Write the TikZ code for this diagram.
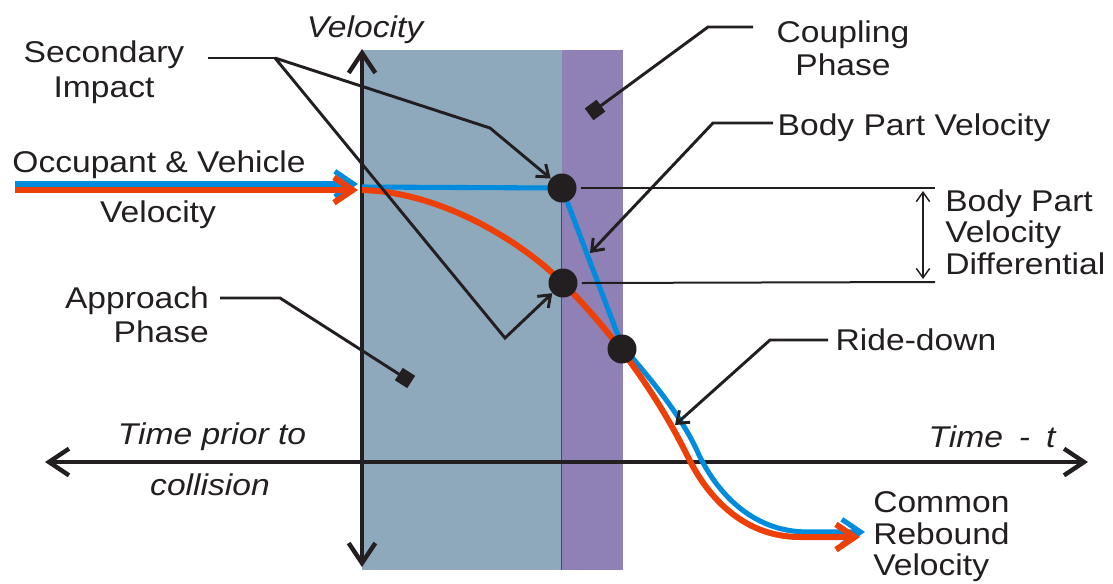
\documentclass[tikz,border=0pt]{standalone}
\usepackage{fontspec}
\setmainfont{Liberation Sans}[FakeStretch=1.12]
\usetikzlibrary{arrows.meta}
\definecolor{ink}{RGB}{35,31,32}
\definecolor{apbg}{RGB}{143,169,188}
\definecolor{cpbg}{RGB}{143,128,181}
\definecolor{vblue}{RGB}{0,140,222}
\definecolor{vred}{RGB}{236,64,8}
\begin{document}
\begin{tikzpicture}[x=0.75pt,y=-0.75pt,
  lbl/.style={font=\fontsize{22.5pt}{26pt}\selectfont, text=ink, inner sep=0pt},
  lbli/.style={lbl, font=\fontsize{22.5pt}{26pt}\selectfont\itshape},
  axis/.style={draw=ink, line width=3.3pt, {Straight Barb[length=15pt,width=20pt]}-{Straight Barb[length=15pt,width=20pt]}},
  leader/.style={draw=ink, line width=2.2pt},
  leadarrow/.style={leader, -{Straight Barb[length=8pt,width=12pt]}},
  marker/.style={fill=ink, minimum size=11pt, inner sep=0pt, shape=rectangle},
  dot/.style={circle, fill=ink, minimum size=21.75pt, inner sep=0pt},
  velred/.style={draw=vred, line width=4.5pt},
  velblue/.style={draw=vblue, line width=3.8pt},
  vtip/.style={-{Straight Barb[length=14pt,width=19pt]}},
  refline/.style={draw=ink}
]
\path[use as bounding box] (0,0) rectangle (1113,583);

% phases
\fill[apbg] (362,50) rectangle (562,570);
\fill[cpbg] (562,50) rectangle (623,570);
\draw[ink!80, line width=0.9pt] (561.5,188) -- (561.5,570);

% axes
\coordinate (vTop) at (362,49);
\coordinate (vBot) at (362,567);
\coordinate (hL) at (45,462);
\coordinate (hR) at (1088,462);
\draw[axis] (vBot) -- (vTop);
\draw[axis] (hL) -- (hR);

% dots positions
\coordinate (p1) at (562,188);
\coordinate (p2) at (563,283);
\coordinate (p3) at (622,349);

% incoming velocity arrows
\draw[velblue, vtip] (15,184) -- (358,184);
\draw[velred, vtip] (15,190) -- (358,190);

% blue body part path
\draw[velblue] (362,187) -- (p1) -- (622,346);
\draw[velblue, vtip] (622,346) .. controls (652,380) and (683,418) .. (699,455)
  .. controls (716,490) and (750,532) .. (808,532) -- (865,532);

% red vehicle path
\draw[velred, vtip] (362,190) .. controls (440,192) and (520,240) .. (p2)
  .. controls (600,320) and (650,380) .. (688,457)
  .. controls (705,492) and (740,537) .. (800,537) -- (860,537);

% dots
\node[dot] (dot1) at (p1) {};
\node[dot] (dot2) at (p2) {};
\node[dot] (dot3) at (p3) {};

% velocity differential
\coordinate (dT) at (935,188);
\coordinate (dB) at (935,282);
\draw[leader] ([xshift=3pt]dot1.east) -- (dT);
\draw[refline, line width=1.5pt] ([xshift=3pt]dot2.east) -- (dB);
\coordinate (daT) at (923,191);
\coordinate (daB) at (923,279);
\draw[ink, line width=1.1pt, {Straight Barb[length=7pt,width=10pt]}-{Straight Barb[length=7pt,width=10pt]}] (daT) -- (daB);

% texts
\node[lbli] (velax) at (365,30) {Velocity};
\node[lbl, align=center, font=\fontsize{22.5pt}{26.25pt}\selectfont] (si) at (104,72) {Secondary\\Impact};
\node[lbl] (ov1) at (159,165) {Occupant \& Vehicle};
\node[lbl] (ov2) at (158,215) {Velocity};
\node[lbl, align=right, font=\fontsize{22.5pt}{25.5pt}\selectfont] (ap) at (137,315) {Approach\\Phase};
\node[lbl, align=center, font=\fontsize{22.5pt}{24.75pt}\selectfont] (cp) at (843,48) {Coupling\\Phase};
\node[lbl] (bpv) at (914,128) {Body Part Velocity};
\node[lbl, align=left, anchor=west, font=\fontsize{22.5pt}{23.6pt}\selectfont] (bpvd) at (945,232) {Body Part\\Velocity\\Differential};
\node[lbl] (rd) at (916,340) {Ride-down};
\node[lbli] (tp1) at (212,437) {Time prior to};
\node[lbli] (tp2) at (210,485) {collision};
\node[lbli] (tt) at (992,437) {Time\hspace{5pt} - \hspace{5pt}t};
\node[lbl, align=left, anchor=west, font=\fontsize{22.5pt}{23.6pt}\selectfont] (crv) at (873,537) {Common\\Rebound\\Velocity};

% markers
\node[marker, rotate=-32.6] (apm) at (405,378) {};
\node[marker, rotate=36.3] (cpm) at (595,110) {};

% leaders
\coordinate (siA) at (208,58);
\coordinate (siB) at (275,58);
\coordinate (siC) at (490,128);
\coordinate (siD) at (505,338);
\draw[leader] (siA) -- (siB);
\draw[leadarrow] (siB) -- (siC) -- (dot1);
\draw[leadarrow] (siB) -- (siD) -- (dot2);

\coordinate (cpA) at (753,27);
\coordinate (cpB) at (708,27);
\draw[leader] (cpA) -- (cpB) -- (cpm.center);

\coordinate (bpA) at (773,123);
\coordinate (bpB) at (713,123);
\coordinate (bpT) at (590,253);
\draw[leadarrow] (bpA) -- (bpB) -- (bpT);

\coordinate (apA) at (220,298);
\coordinate (apB) at (280,298);
\draw[leader] (apA) -- (apB) -- (apm.center);

\coordinate (rdA) at (828,340);
\coordinate (rdB) at (770,340);
\coordinate (rdT) at (675,425);
\draw[leadarrow] (rdA) -- (rdB) -- (rdT);
\end{tikzpicture}
\end{document}
